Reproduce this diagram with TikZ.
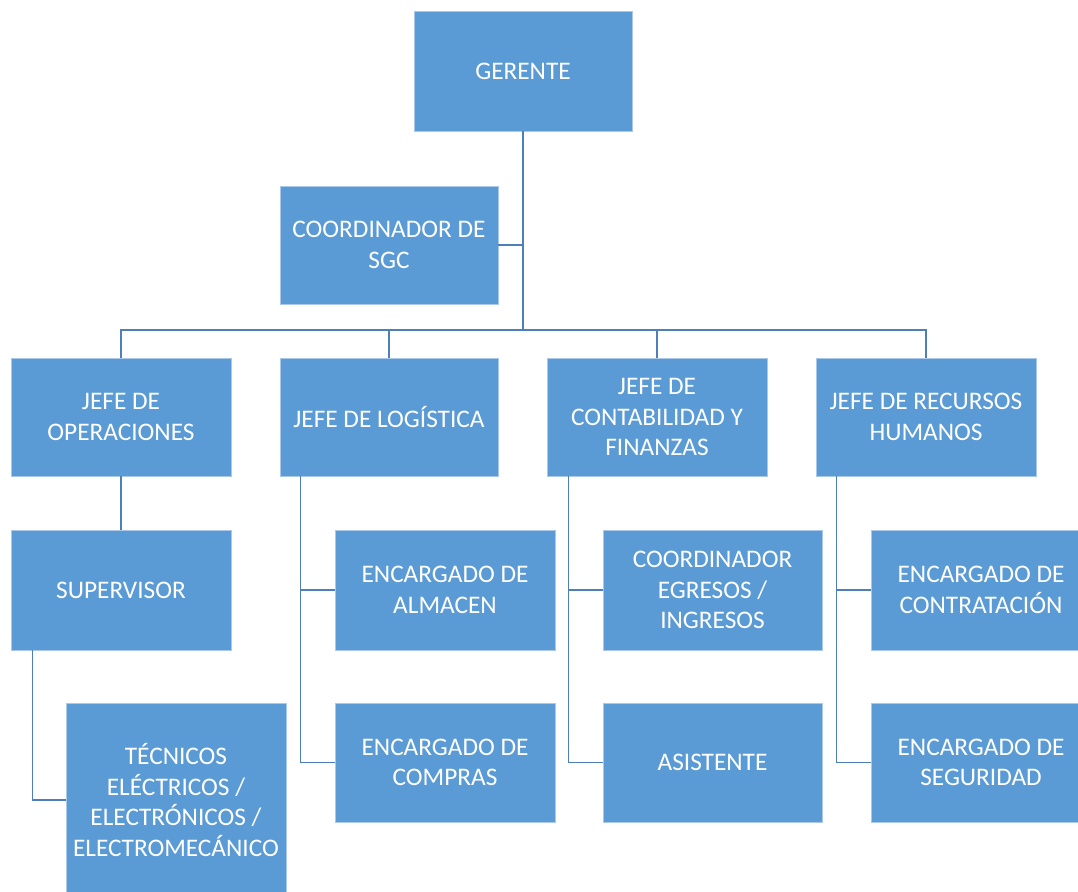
\documentclass[tikz,border=0pt]{standalone}
\usepackage{fontspec}
\setmainfont{Carlito}
\definecolor{boxblue}{HTML}{5B9BD5}
\definecolor{boxedge}{HTML}{A9C8EA}
\definecolor{linkblue}{HTML}{4F7FB8}
\begin{document}
\begin{tikzpicture}[x=1pt,y=-1pt,
  box/.style={rectangle, fill=boxblue, draw=boxedge, line width=0.8pt, text=white,
    align=center, inner sep=0pt, font=\fontsize{25.3}{30.5}\selectfont},
  link/.style={draw=linkblue, line width=1.6pt}]
\useasboundingbox (0,0) rectangle (1078,891);
\clip (0,0) rectangle (1078,891);
% nodes
\node[box, minimum width=218, minimum height=120] (g)   at (523,71)    {GERENTE};
\node[box, minimum width=218, minimum height=118] (sgc) at (389,245)   {COORDINADOR DE\\SGC};
\node[box, minimum width=220, minimum height=118] (op)  at (121,417)   {JEFE DE\\OPERACIONES};
\node[box, minimum width=218, minimum height=118] (log) at (389,417)   {JEFE DE LOGÍSTICA};
\node[box, minimum width=220, minimum height=118] (con) at (657,417)   {JEFE DE\\CONTABILIDAD Y\\FINANZAS};
\node[box, minimum width=220, minimum height=118] (rh)  at (926,417)   {JEFE DE RECURSOS\\HUMANOS};
\node[box, minimum width=220, minimum height=120] (sup) at (121,590)   {SUPERVISOR};
\node[box, minimum width=220, minimum height=194] (tec) at (176,800)   {TÉCNICOS\\ELÉCTRICOS /\\ELECTRÓNICOS /\\ELECTROMECÁNICO};
\node[box, minimum width=220, minimum height=120] (alm) at (445,590)   {ENCARGADO DE\\ALMACEN};
\node[box, minimum width=220, minimum height=119] (com) at (445,762.5) {ENCARGADO DE\\COMPRAS};
\node[box, minimum width=219, minimum height=120] (ceg) at (712.5,590) {COORDINADOR\\EGRESOS /\\INGRESOS};
\node[box, minimum width=219, minimum height=119] (asi) at (712.5,762.5) {ASISTENTE};
\node[box, minimum width=220, minimum height=120] (ctr) at (981,590)   {ENCARGADO DE\\CONTRATACIÓN};
\node[box, minimum width=220, minimum height=119] (seg) at (981,762.5) {ENCARGADO DE\\SEGURIDAD};
\coordinate (bus) at (523,330);
% connectors
\draw[link] (g.south) -- (bus);
\draw[link] (sgc.east) -- (sgc.east -| g.south);
\draw[link] (op.north) |- (bus) -| (rh.north);
\draw[link] (log.north) -- (log.north |- bus);
\draw[link] (con.north) -- (con.north |- bus);
\draw[link] (op.south) -- (sup.north);
\draw[link] ([xshift=22pt]sup.south west) |- (tec.west);
\draw[link] ([xshift=21pt]log.south west) |- (alm.west);
\draw[link] ([xshift=21pt]log.south west) |- (com.west);
\draw[link] ([xshift=22pt]con.south west) |- (ceg.west);
\draw[link] ([xshift=22pt]con.south west) |- (asi.west);
\draw[link] ([xshift=21pt]rh.south west) |- (ctr.west);
\draw[link] ([xshift=21pt]rh.south west) |- (seg.west);
\end{tikzpicture}
\end{document}
